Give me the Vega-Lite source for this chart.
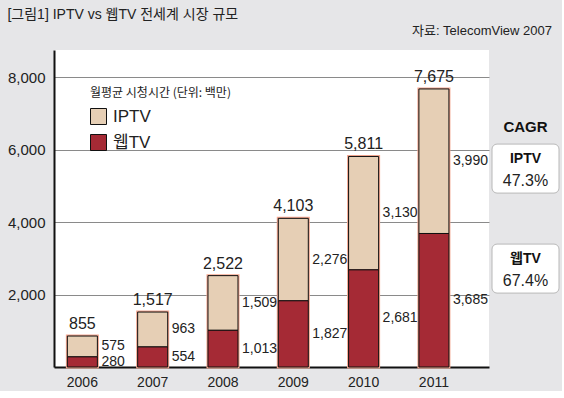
{
  "$schema": "https://vega.github.io/schema/vega-lite/v6.json",
  "background": "#e6e6e8",
  "padding": {"left": 7, "top": 8, "right": 2, "bottom": 2},
  "title": {"text": "[그림1] IPTV vs 웹TV 전세계 시장 규모", "anchor": "start", "fontSize": 14, "fontWeight": "normal", "font": "Liberation Sans, Noto Sans CJK KR", "color": "#222", "offset": 0, "dx": 0, "dy": -3},
  "spacing": 3,
  "bounds": "flush",
  "hconcat": [
    {
      "width": 435,
      "height": 317,
      "view": {"fill": "white", "stroke": null},
      "title": {"text": "자료: TelecomView 2007", "anchor": "end", "dx": 63, "fontSize": 13, "fontWeight": "normal", "font": "Liberation Sans, Noto Sans CJK KR", "color": "#222", "offset": 12},
      "data": {"values": [
        {"year": "2006", "type": "IPTV", "value": 575},
        {"year": "2006", "type": "웹TV", "value": 280},
        {"year": "2007", "type": "IPTV", "value": 963},
        {"year": "2007", "type": "웹TV", "value": 554},
        {"year": "2008", "type": "IPTV", "value": 1509},
        {"year": "2008", "type": "웹TV", "value": 1013},
        {"year": "2009", "type": "IPTV", "value": 2276},
        {"year": "2009", "type": "웹TV", "value": 1827},
        {"year": "2010", "type": "IPTV", "value": 3130},
        {"year": "2010", "type": "웹TV", "value": 2681},
        {"year": "2011", "type": "IPTV", "value": 3990},
        {"year": "2011", "type": "웹TV", "value": 3685}
      ]},
      "encoding": {
        "x": {"field": "year", "type": "ordinal", "title": null,
              "scale": {"paddingInner": 0.573, "paddingOuter": 0.38, "align": 0.25},
              "axis": {"labelAngle": 0, "ticks": false, "domainColor": "#111", "domainWidth": 2, "labelFontSize": 14, "labelPadding": 8, "labelColor": "#222", "labelFont": "Liberation Sans"}}
      },
      "layer": [
        {
          "mark": {"type": "bar", "fill": "#f3a68f", "stroke": "#f3a68f", "strokeWidth": 3},
          "encoding": {
            "y": {"aggregate": "sum", "field": "value", "type": "quantitative", "title": null,
                  "scale": {"domain": [0, 8750], "nice": false},
                  "axis": {"values": [2000, 4000, 6000, 8000], "format": ",d", "ticks": false, "grid": true, "gridColor": "#8a8a8a", "gridWidth": 1, "domainColor": "#111", "domainWidth": 2, "labelFontSize": 15, "labelPadding": 9, "labelColor": "#222", "labelFont": "Liberation Sans"}}
          }
        },
        {
          "mark": {"type": "bar", "stroke": "#111", "strokeWidth": 1},
          "encoding": {
            "y": {"field": "value", "type": "quantitative", "title": null,
                  "axis": {"values": [2000, 4000, 6000, 8000], "format": ",d", "ticks": false, "grid": true, "gridColor": "#8a8a8a", "gridWidth": 1, "domainColor": "#111", "domainWidth": 2, "labelFontSize": 15, "labelPadding": 9, "labelColor": "#222", "labelFont": "Liberation Sans"}},
            "color": {"field": "type", "type": "nominal",
                      "scale": {"domain": ["IPTV", "웹TV"], "range": ["#e6cfb5", "#a52a35"]},
                      "legend": {"title": "월평균 시청시간 (단위: 백만)", "orient": "none", "legendX": 36, "legendY": 38,
                                 "titleFontSize": 12, "titleFontWeight": "normal", "titleColor": "#222", "titleFont": "Noto Sans CJK KR", "titlePadding": 8,
                                 "symbolType": "square", "symbolSize": 256, "symbolStrokeColor": "#111", "symbolStrokeWidth": 1, "symbolOpacity": 1,
                                 "labelFontSize": 17, "labelColor": "#222", "labelFont": "Liberation Sans, Noto Sans CJK KR", "rowPadding": 5, "labelOffset": 6}},
            "order": {"field": "type", "sort": "descending"}
          }
        },
        {
          "transform": [
            {"stack": "value", "groupby": ["year"], "sort": [{"field": "type", "order": "descending"}], "as": ["v0", "v1"]},
            {"calculate": "(datum.v0 + datum.v1) / 2", "as": "mid"}
          ],
          "mark": {"type": "text", "align": "left", "baseline": "middle", "dx": 4, "fontSize": 14, "color": "#222", "font": "Liberation Sans"},
          "encoding": {
            "x": {"field": "year", "type": "ordinal", "bandPosition": 1},
            "y": {"field": "mid", "type": "quantitative", "title": null,
                  "axis": {"values": [2000, 4000, 6000, 8000], "format": ",d", "ticks": false, "grid": true, "gridColor": "#8a8a8a", "gridWidth": 1, "domainColor": "#111", "domainWidth": 2, "labelFontSize": 15, "labelPadding": 9, "labelColor": "#222", "labelFont": "Liberation Sans"}},
            "text": {"field": "value", "type": "quantitative", "format": ","}
          }
        },
        {
          "transform": [{"aggregate": [{"op": "sum", "field": "value", "as": "total"}], "groupby": ["year"]}],
          "mark": {"type": "text", "align": "center", "baseline": "bottom", "dy": -4, "fontSize": 16, "color": "#222", "font": "Liberation Sans"},
          "encoding": {
            "y": {"field": "total", "type": "quantitative", "title": null,
                  "axis": {"values": [2000, 4000, 6000, 8000], "format": ",d", "ticks": false, "grid": true, "gridColor": "#8a8a8a", "gridWidth": 1, "domainColor": "#111", "domainWidth": 2, "labelFontSize": 15, "labelPadding": 9, "labelColor": "#222", "labelFont": "Liberation Sans"}},
            "text": {"field": "total", "type": "quantitative", "format": ","}
          }
        }
      ]
    },
    {
      "width": 67,
      "height": 317,
      "view": {"fill": null, "stroke": null},
      "data": {"values": [
        {"item": "IPTV", "rate": "47.3%"},
        {"item": "웹TV", "rate": "67.4%"}
      ]},
      "encoding": {
        "y": {"field": "item", "type": "nominal", "axis": null,
              "scale": {"domain": ["IPTV", "웹TV"], "paddingInner": 0.51, "paddingOuter": 0.84, "align": 0.56}}
      },
      "layer": [
        {"mark": {"type": "rect", "fill": "white", "stroke": "#b8b8b8", "strokeWidth": 1, "cornerRadius": 5}},
        {"mark": {"type": "text", "dy": -10, "fontSize": 14, "fontWeight": "bold", "color": "#111", "font": "Liberation Sans, Noto Sans CJK KR"},
         "encoding": {"text": {"field": "item"}}},
        {"mark": {"type": "text", "dy": 12, "fontSize": 16, "color": "#222", "font": "Liberation Sans"},
         "encoding": {"text": {"field": "rate"}}},
        {"transform": [{"filter": "datum.item === 'IPTV'"}],
         "mark": {"type": "text", "dy": -42, "fontSize": 15, "fontWeight": "bold", "color": "#111", "font": "Liberation Sans", "text": "CAGR"}}
      ]
    }
  ]
}
